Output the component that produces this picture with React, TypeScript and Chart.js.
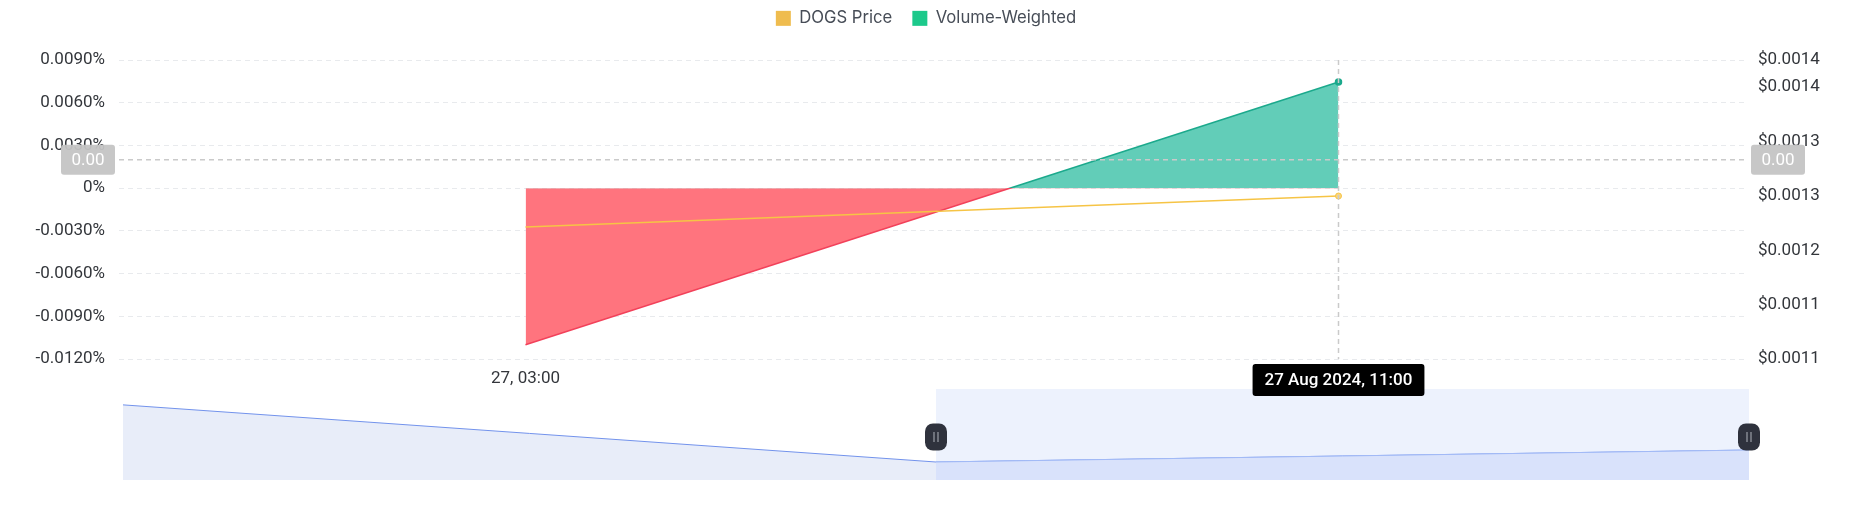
import React, { useEffect, useRef } from 'react';
import { Chart, registerables } from 'chart.js';

Chart.register(...registerables);
Chart.defaults.font.family = 'Roboto';

// main chart data
const categories = ['27, 03:00', '27, 11:00'];
const priceValues = [0.0012257, 0.0012599];
const volumeWeighted = [-0.011, 0.00745]; // in percent
const priceTicks = [0.00108, 0.00114, 0.0012, 0.00126, 0.00132, 0.00138, 0.00141];

// navigator (data zoom) data
const navCategories = ['26, 19:00', '27, 03:00', '27, 11:00'];
const navValues = [0.001388, 0.001226, 0.00126];
const windowStart = 1;

// hover state
const hoverIndex = 1;
const hoverLabel = '27 Aug 2024, 11:00';
const crosshairValue = 0.002;

const legendColors = ['#EFBC4E', '#1CC98B'];
const teal = '#1BA98C';
const red = '#F2415A';

const volumeStroke = (c: any) => {
  const chart = c.chart;
  const area = chart.chartArea;
  if (!area || !chart.scales.y) return teal;
  const y0 = chart.scales.y.getPixelForValue(0);
  const g = chart.ctx.createLinearGradient(0, area.top, 0, area.bottom);
  const s = Math.min(Math.max((y0 - area.top) / (area.bottom - area.top), 0), 1);
  g.addColorStop(0, teal);
  g.addColorStop(s, teal);
  g.addColorStop(s, red);
  g.addColorStop(1, red);
  return g;
};

const roundRect = (ctx: CanvasRenderingContext2D, x: number, y: number, w: number, h: number, r: number) => {
  ctx.beginPath();
  ctx.moveTo(x + r, y);
  ctx.arcTo(x + w, y, x + w, y + h, r);
  ctx.arcTo(x + w, y + h, x, y + h, r);
  ctx.arcTo(x, y + h, x, y, r);
  ctx.arcTo(x, y, x + w, y, r);
  ctx.closePath();
};

const labelBox = (ctx: CanvasRenderingContext2D, x: number, y: number, w: number, h: number, bg: string, text: string, font: string) => {
  ctx.fillStyle = bg;
  roundRect(ctx, x, y, w, h, 3);
  ctx.fill();
  ctx.fillStyle = '#fff';
  ctx.font = font;
  ctx.textAlign = 'center';
  ctx.textBaseline = 'middle';
  ctx.fillText(text, x + w / 2, y + h / 2 + 1);
};

const legendSpace = {
  id: 'legendSpace',
  beforeInit(chart: any) {
    const fit = chart.legend.fit;
    chart.legend.fit = function () {
      fit.bind(chart.legend)();
      this.height = 70;
    };
  },
};

const crosshair = {
  id: 'crosshair',
  afterDatasetsDraw(chart: any) {
    const { ctx, chartArea: a, scales } = chart;
    const x = scales.x.getPixelForValue(hoverIndex);
    const y = scales.y.getPixelForValue(crosshairValue);
    ctx.save();
    ctx.setLineDash([5, 4]);
    ctx.lineWidth = 1.5;
    ctx.strokeStyle = '#CACACA';
    ctx.beginPath();
    ctx.moveTo(x, a.top);
    ctx.lineTo(x, a.bottom);
    ctx.stroke();
    ctx.beginPath();
    ctx.moveTo(a.left, y);
    ctx.lineTo(a.right, y);
    ctx.stroke();
    ctx.restore();
  },
  afterDraw(chart: any) {
    const { ctx, chartArea: a, scales } = chart;
    const x = scales.x.getPixelForValue(hoverIndex);
    const y = scales.y.getPixelForValue(crosshairValue);
    const leftText = scales.y.getValueForPixel(y).toFixed(2);
    const rightText = scales.yPrice.getValueForPixel(y).toFixed(2);
    ctx.save();
    labelBox(ctx, a.left - 58, y - 15, 54, 30, 'rgba(196,196,196,0.95)', leftText, '17px Roboto');
    labelBox(ctx, a.right + 6, y - 15, 54, 30, 'rgba(196,196,196,0.95)', rightText, '17px Roboto');
    ctx.font = '500 17px Roboto';
    const bw = ctx.measureText(hoverLabel).width + 24;
    labelBox(ctx, x - bw / 2, a.bottom + 5, bw, 32, '#000', hoverLabel, '500 17px Roboto');
    ctx.restore();
  },
};

function MainChart() {
  const ref = useRef<HTMLCanvasElement | null>(null);
  useEffect(() => {
    if (!ref.current) return;
    const chart = new Chart(ref.current, {
      type: 'line',
      data: {
        labels: categories,
        datasets: [
          {
            label: 'DOGS Price',
            data: priceValues,
            yAxisID: 'yPrice',
            borderColor: '#F6C445',
            borderWidth: 1.5,
            pointRadius: (c: any) => (c.dataIndex === hoverIndex ? 3 : 0),
            pointBackgroundColor: '#FAD57E',
            pointBorderColor: '#F6C445',
            pointBorderWidth: 1,
            fill: false,
            tension: 0,
          },
          {
            label: 'Volume-Weighted',
            data: volumeWeighted,
            yAxisID: 'y',
            borderColor: volumeStroke,
            borderWidth: 1.5,
            backgroundColor: '#62CDB8',
            fill: { target: 'origin', above: '#62CDB8', below: '#FF747E' },
            pointRadius: (c: any) => (c.dataIndex === hoverIndex ? 3 : 0),
            pointBackgroundColor: teal,
            pointBorderColor: teal,
            tension: 0,
          },
        ],
      },
      options: {
        animation: false,
        responsive: false,
        events: [],
        layout: { padding: { top: -10, left: 0, right: 0, bottom: 0 } },
        plugins: {
          legend: {
            position: 'top',
            align: 'center',
            labels: {
              boxWidth: 15,
              boxHeight: 15,
              padding: 20,
              color: '#474D57',
              font: { family: 'Inter', size: 16.7 },
              generateLabels: (ch: any) =>
                ch.data.datasets.map((d: any, i: number) => ({
                  text: d.label,
                  fillStyle: legendColors[i],
                  strokeStyle: legendColors[i],
                  lineWidth: 0,
                  hidden: false,
                  datasetIndex: i,
                  fontColor: '#474D57',
                })),
            },
          },
          tooltip: { enabled: false },
        },
        scales: {
          x: {
            type: 'category',
            offset: true,
            grid: { display: false, drawTicks: false },
            border: { display: false },
            ticks: { color: '#33363B', font: { size: 17 }, padding: 10, maxRotation: 0, autoSkip: false },
            afterFit: (s: any) => {
              s.height = 41;
            },
          },
          y: {
            position: 'left',
            min: -0.012,
            max: 0.009,
            ticks: {
              stepSize: 0.003,
              padding: 14,
              color: '#33363B',
              font: { size: 17 },
              callback: (v: any) => (Math.abs(Number(v)) < 1e-9 ? '0%' : Number(v).toFixed(4) + '%'),
            },
            grid: { color: '#E8EAED', drawTicks: false, lineWidth: 1 },
            border: { display: false, dash: [5, 4] },
            afterFit: (s: any) => {
              s.width = 119;
            },
          },
          yPrice: {
            position: 'right',
            min: 0.00108,
            max: 0.00141,
            afterBuildTicks: (s: any) => {
              s.ticks = priceTicks.map((v) => ({ value: v }));
            },
            ticks: {
              padding: 13,
              color: '#33363B',
              font: { size: 17 },
              callback: (v: any) => '$' + Number(v).toFixed(4),
            },
            grid: { drawOnChartArea: false, drawTicks: false },
            border: { display: false },
            afterFit: (s: any) => {
              s.width = 107;
            },
          },
        },
      } as any,
      plugins: [legendSpace, crosshair],
    });
    return () => chart.destroy();
  }, []);
  return <canvas ref={ref} width={1852} height={400} style={{ position: 'absolute', left: 0, top: 0, zIndex: 2 }} />;
}

const navWindow = {
  id: 'navWindow',
  beforeDatasetsDraw(chart: any) {
    const { ctx, chartArea: a, scales } = chart;
    const x0 = scales.x.getPixelForValue(windowStart);
    const x1 = scales.x.getPixelForValue(navCategories.length - 1);
    ctx.save();
    ctx.fillStyle = '#EDF2FD';
    ctx.fillRect(x0, a.top, x1 - x0, a.bottom - a.top);
    ctx.restore();
  },
  afterDatasetsDraw(chart: any) {
    const { ctx, chartArea: a, scales } = chart;
    const cy = a.top + 48;
    [windowStart, navCategories.length - 1].forEach((i) => {
      const x = scales.x.getPixelForValue(i);
      ctx.save();
      ctx.fillStyle = '#2F323D';
      roundRect(ctx, x - 11, cy - 13.5, 22, 27, 8);
      ctx.fill();
      ctx.strokeStyle = '#9A9DA6';
      ctx.lineWidth = 1.2;
      ctx.beginPath();
      ctx.moveTo(x - 2, cy - 5);
      ctx.lineTo(x - 2, cy + 5);
      ctx.moveTo(x + 2, cy - 5);
      ctx.lineTo(x + 2, cy + 5);
      ctx.stroke();
      ctx.restore();
    });
  },
};

function Navigator() {
  const ref = useRef<HTMLCanvasElement | null>(null);
  useEffect(() => {
    if (!ref.current) return;
    const chart = new Chart(ref.current, {
      type: 'line',
      data: {
        labels: navCategories,
        datasets: [
          {
            label: 'selected',
            data: navValues.map((v, i) => (i >= windowStart ? v : null)),
            borderColor: '#A2BAF6',
            borderWidth: 1,
            pointRadius: 0,
            fill: 'start',
            backgroundColor: '#D9E2FB',
            tension: 0,
          },
          {
            label: 'all',
            data: navValues,
            borderColor: '#7393EC',
            borderWidth: 1,
            pointRadius: 0,
            fill: 'start',
            backgroundColor: '#E8EDF9',
            tension: 0,
          },
        ],
      },
      options: {
        animation: false,
        responsive: false,
        events: [],
        layout: { padding: { left: 123, right: 103, top: 0, bottom: 0 } },
        plugins: { legend: { display: false }, tooltip: { enabled: false } },
        scales: {
          x: { type: 'category', display: false },
          y: { display: false, min: 0.001175, max: 0.001433 },
        },
      } as any,
      plugins: [navWindow],
    });
    return () => chart.destroy();
  }, []);
  return <canvas ref={ref} width={1852} height={91} style={{ position: 'absolute', left: 0, top: 389, zIndex: 1 }} />;
}

export default function App() {
  useEffect(() => {
    document.body.style.margin = '0';
  }, []);
  return (
    <div style={{ position: 'relative', width: 1852, height: 525, overflow: 'hidden', background: '#fff' }}>
      <Navigator />
      <MainChart />
    </div>
  );
}
